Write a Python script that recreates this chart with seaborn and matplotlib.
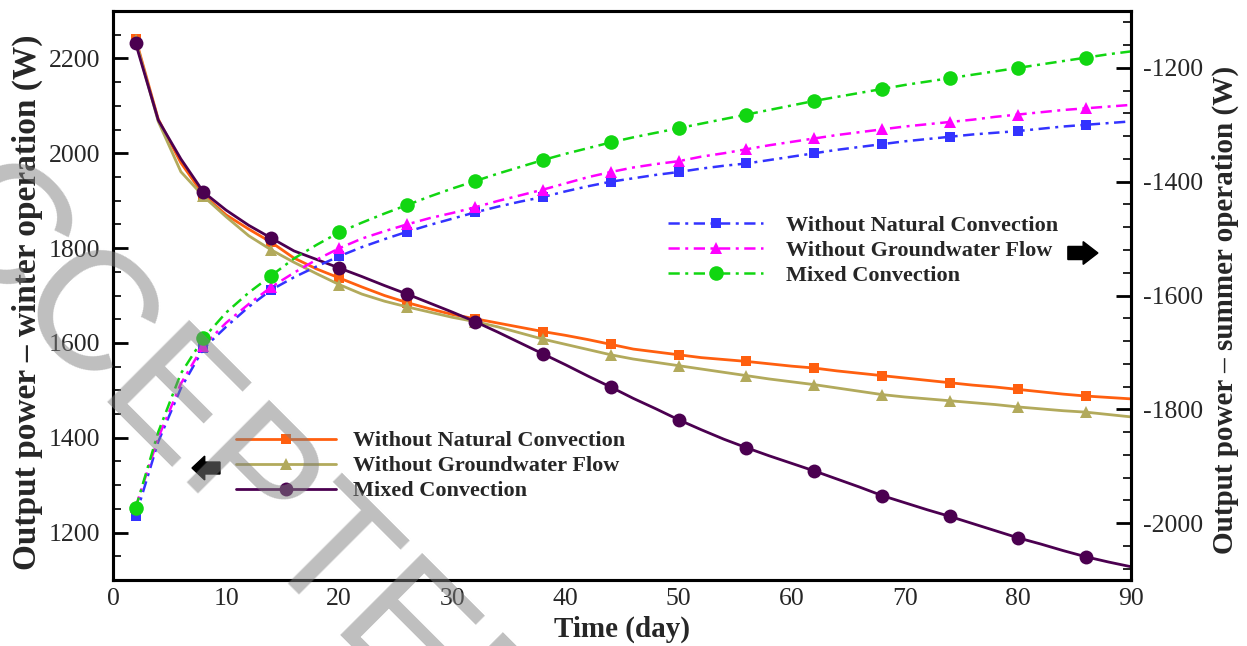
import matplotlib
matplotlib.use("Agg")
import matplotlib.pyplot as plt
from matplotlib.patches import FancyArrow
from matplotlib.ticker import MultipleLocator
import seaborn as sns

# time axis (day), line sampled every 2 days, markers every 6 days
days = [2, 4, 6, 8, 10, 12, 14, 16, 18, 20, 22, 24, 26, 28, 30, 32, 34, 36, 38, 40,
        42, 44, 46, 48, 50, 52, 54, 56, 58, 60, 62, 64, 66, 68, 70, 72, 74, 76, 78, 80,
        82, 84, 86, 88, 90]

# winter operation (left axis, W)
winter_no_natural = [2242, 2072, 1980, 1912, 1870, 1840, 1812, 1779, 1756, 1737, 1718, 1700,
                     1685, 1672, 1660, 1651, 1642, 1633, 1624, 1616, 1607, 1597, 1587, 1581,
                     1575, 1569, 1565, 1561, 1556, 1551, 1547, 1541, 1536, 1531, 1526, 1521,
                     1516, 1511, 1507, 1502, 1497, 1492, 1488, 1485, 1482]
winter_no_groundwater = [2238, 2067, 1961, 1909, 1866, 1826, 1796, 1770, 1746, 1723, 1703, 1688,
                         1676, 1665, 1654, 1645, 1634, 1621, 1608, 1597, 1586, 1575, 1566, 1559,
                         1552, 1545, 1538, 1531, 1524, 1518, 1512, 1505, 1498, 1491, 1486, 1482,
                         1478, 1474, 1470, 1465, 1461, 1457, 1454, 1449, 1444]
winter_mixed = [2232, 2070, 1988, 1918, 1880, 1848, 1821, 1794, 1776, 1758, 1740, 1721,
                1703, 1684, 1665, 1645, 1623, 1600, 1577, 1554, 1530, 1507, 1483, 1461,
                1438, 1417, 1397, 1379, 1362, 1346, 1330, 1313, 1296, 1278, 1263, 1248,
                1234, 1219, 1204, 1189, 1176, 1162, 1149, 1138, 1128]

# summer operation (right axis, W)
summer_no_natural = [-1988, -1857, -1763, -1693, -1655, -1620, -1590, -1568, -1549, -1531, -1515,
                     -1501, -1488, -1476, -1465, -1454, -1444, -1435, -1427, -1417, -1408, -1400,
                     -1394, -1388, -1383, -1377, -1372, -1368, -1362, -1356, -1350, -1344, -1339,
                     -1334, -1329, -1325, -1321, -1317, -1314, -1311, -1307, -1303, -1300, -1297,
                     -1294]
summer_no_groundwater = [-1972, -1850, -1755, -1688, -1648, -1615, -1585, -1560, -1537, -1517,
                         -1500, -1487, -1475, -1464, -1455, -1445, -1434, -1424, -1414, -1403,
                         -1392, -1383, -1375, -1369, -1364, -1356, -1350, -1343, -1336, -1330,
                         -1324, -1318, -1313, -1308, -1303, -1299, -1295, -1291, -1286, -1282,
                         -1278, -1274, -1271, -1268, -1265]
summer_mixed = [-1974, -1840, -1737, -1675, -1630, -1595, -1565, -1535, -1511, -1489, -1472,
                -1456, -1441, -1426, -1412, -1399, -1386, -1374, -1362, -1351, -1341, -1331,
                -1322, -1314, -1306, -1298, -1290, -1282, -1274, -1266, -1258, -1251, -1244,
                -1237, -1230, -1224, -1218, -1212, -1206, -1200, -1194, -1188, -1182, -1176,
                -1171]

labels = ["Without Natural Convection", "Without Groundwater Flow", "Mixed Convection"]

sns.set_theme(style="white")
plt.rcParams["font.family"] = ["Liberation Serif", "DejaVu Serif"]
plt.rcParams["axes.unicode_minus"] = False

fig = plt.figure(figsize=(12.47, 6.46), dpi=100)
ax = fig.add_axes([113 / 1247, 1 - 580 / 646, 1018 / 1247, 569 / 646])
ax2 = ax.twinx()

winter = [
    (winter_no_natural, "#FF5F0F", "s", 7.5),
    (winter_no_groundwater, "#B2AA5C", "^", 8.5),
    (winter_mixed, "#4B0050", "o", 10),
]
for (vals, col, mk, ms), lab in zip(winter, labels):
    sns.lineplot(x=days, y=vals, ax=ax, color=col, marker=mk, markersize=ms, markevery=3,
                 mec=col, mew=0, lw=2.0, label=lab)

dashdot = (0, (4.5, 2.2, 1.2, 2.2))
summer = [
    (summer_no_natural, "#3333FF", "s", 7.5),
    (summer_no_groundwater, "#FF00FF", "^", 8.5),
    (summer_mixed, "#11D611", "o", 10.5),
]
for (vals, col, mk, ms), lab in zip(summer, labels):
    sns.lineplot(x=days, y=vals, ax=ax2, color=col, marker=mk, markersize=ms, markevery=3,
                 mec=col, mew=0, lw=1.8, linestyle=dashdot, label=lab)

ax.set_xlim(0, 90)
ax.set_ylim(1100, 2300)
ax2.set_ylim(-2100, -1100)

ax.xaxis.set_major_locator(MultipleLocator(10))
ax.xaxis.set_minor_locator(MultipleLocator(2))
ax.yaxis.set_major_locator(MultipleLocator(200))
ax.yaxis.set_minor_locator(MultipleLocator(50))
ax2.yaxis.set_major_locator(MultipleLocator(200))
ax2.yaxis.set_minor_locator(MultipleLocator(40))

for a in (ax, ax2):
    a.tick_params(which="both", direction="in", color="black", labelsize=18.5, pad=9)
    a.tick_params(which="major", length=11, width=2)
    a.tick_params(which="minor", length=6, width=1.2)
    for s in a.spines.values():
        s.set_linewidth(2.2)
        s.set_color("black")
ax.tick_params(axis="x", pad=6)
ax.tick_params(top=False, right=False, which="both")
ax2.tick_params(axis="y", left=False, right=True, which="both")

ax.set_xlabel("Time (day)", fontsize=21, fontweight="bold", labelpad=4)
ax.set_ylabel("Output power \u2013 winter operation (W)", fontsize=24, fontweight="bold")
ax2.set_ylabel("Output power \u2013 summer operation (W)", fontsize=21, fontweight="bold")
ax.yaxis.set_label_coords(-0.069, 0.4886)
ax2.yaxis.set_label_coords(1.079, 0.4745)

h1, l1 = ax.get_legend_handles_labels()
ax.legend(h1, l1, loc="upper left", bbox_to_anchor=(0.1208, 0.262), frameon=False,
          prop={"weight": "bold", "size": 16}, handlelength=4.5, handletextpad=0.75,
          labelspacing=0.2, borderpad=0, borderaxespad=0)
h2, l2 = ax2.get_legend_handles_labels()
ax2.legend(h2, l2, loc="upper left", bbox_to_anchor=(0.545, 0.6415), frameon=False,
           prop={"weight": "bold", "size": 16}, handlelength=4.3, handletextpad=1.0,
           labelspacing=0.2, borderpad=0, borderaxespad=0)

# direction arrows pointing to each axis
ax2.add_patch(FancyArrow(0.1051, 0.1968, -0.0275, 0, width=0.021, head_width=0.042,
                         head_length=0.0125, length_includes_head=True, color="black",
                         transform=ax2.transAxes, clip_on=False, zorder=5))
ax2.add_patch(FancyArrow(0.938, 0.5747, 0.0295, 0, width=0.023, head_width=0.04,
                         head_length=0.0145, length_includes_head=True, color="black",
                         transform=ax2.transAxes, clip_on=False, zorder=5))

# manuscript watermark
fig.text(0.1612, 0.3266, "ACCEPTED", rotation=-45, rotation_mode="anchor", ha="center",
         va="center", fontsize=122, color="#7f7f7f", alpha=0.5, family="Liberation Sans",
         zorder=10)

fig.savefig("out.png", dpi=100)
